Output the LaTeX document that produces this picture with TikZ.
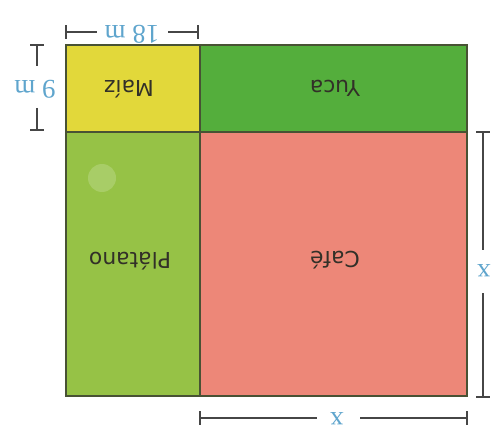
\documentclass[tikz,border=0pt]{standalone}
\usepackage{fontspec}
\setmainfont{Liberation Serif}
\newfontfamily\labfont{DejaVu Sans}
\definecolor{maiz}{RGB}{226,216,58}
\definecolor{yuca}{RGB}{84,174,60}
\definecolor{platano}{RGB}{150,194,70}
\definecolor{cafe}{RGB}{237,135,120}
\definecolor{edge}{RGB}{72,82,52}
\definecolor{dimc}{RGB}{70,70,70}
\definecolor{dimtxt}{RGB}{95,165,205}
\definecolor{labc}{RGB}{50,48,40}
\begin{document}
\begin{tikzpicture}[x=1bp,y=-1bp,
  plot/.style={fill=#1,draw=edge,line width=2.5bp},
  croplab/.style={rotate=180,text=labc,font=\labfont\fontsize{22}{22}\selectfont,inner sep=0pt},
  dimline/.style={draw=dimc,line width=1.8bp},
  dimlab/.style={rotate=180,text=dimtxt,font=\fontsize{27}{27}\selectfont,inner sep=0pt}]
\useasboundingbox (0,0) rectangle (499,445);
\fill[white] (0,0) rectangle (499,445);
% plots
\draw[plot=maiz] (66,45) rectangle (200,132);
\draw[plot=yuca] (200,45) rectangle (467,132);
\draw[plot=platano] (66,132) rectangle (200,396);
\draw[plot=cafe] (200,132) rectangle (467,396);
\fill[white,opacity=0.18] (102,178) circle (14);
% labels
\node[croplab] (maiz) at (129,89) {Maíz};
\node[croplab] (yuca) at (335,88) {Yuca};
\node[croplab] (platano) at (130,261) {Plátano};
\node[croplab] (cafe) at (335,260) {Café};
% dimension: top 18 m
\coordinate (t1) at (66,32);
\coordinate (t2) at (198,32);
\coordinate (t1g) at (97,32);
\coordinate (t2g) at (168,32);
\node[dimlab] (tl) at (132,34) {18 m};
\draw[dimline] (t1) -- (t1g);
\draw[dimline] (t2g) -- (t2);
\draw[dimline] ([yshift=-7]t1) -- ([yshift=7]t1);
\draw[dimline] ([yshift=-7]t2) -- ([yshift=7]t2);
% dimension: left 9 m
\coordinate (l1) at (37,45);
\coordinate (l2) at (37,130);
\coordinate (l1g) at (37,66);
\coordinate (l2g) at (37,108);
\node[dimlab] (ll) at (35,89) {9 m};
\draw[dimline] (l1) -- (l1g);
\draw[dimline] (l2g) -- (l2);
\draw[dimline] ([xshift=-7]l1) -- ([xshift=7]l1);
\draw[dimline] ([xshift=-7]l2) -- ([xshift=7]l2);
% dimension: right x
\coordinate (r1) at (483,132);
\coordinate (r2) at (483,397);
\coordinate (r1g) at (483,250);
\coordinate (r2g) at (483,293);
\node[dimlab] (rl) at (484,271) {x};
\draw[dimline] (r1) -- (r1g);
\draw[dimline] (r2g) -- (r2);
\draw[dimline] ([xshift=-7]r1) -- ([xshift=7]r1);
\draw[dimline] ([xshift=-7]r2) -- ([xshift=7]r2);
% dimension: bottom x
\coordinate (b1) at (200,418);
\coordinate (b2) at (467,418);
\coordinate (b1g) at (317,418);
\coordinate (b2g) at (360,418);
\node[dimlab] (bl) at (337,419) {x};
\draw[dimline] (b1) -- (b1g);
\draw[dimline] (b2g) -- (b2);
\draw[dimline] ([yshift=-7]b1) -- ([yshift=7]b1);
\draw[dimline] ([yshift=-7]b2) -- ([yshift=7]b2);
\end{tikzpicture}
\end{document}
